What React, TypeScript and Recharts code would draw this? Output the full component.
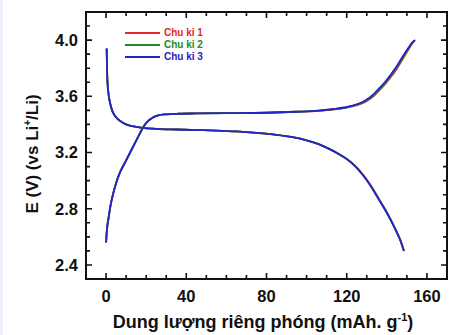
import React from "react";
import { LineChart, Line, XAxis, YAxis, Legend, Label } from "recharts";

// Charge branch: specific capacity (mAh/g) and potential (V) for each cycle
const chargeCapacity = [
  0, 0.5, 1.2, 2.2, 3.6, 5.2, 7, 9.5, 12, 14.5, 17, 19, 21, 23.5, 26, 30, 36, 45,
  60, 80, 95, 106, 114, 120, 125, 129, 133, 136, 139, 142, 145, 148, 150.5, 152.5, 154,
];
const chargeVoltage1 = [
  2.56, 2.66, 2.73, 2.82, 2.91, 2.99, 3.06, 3.13, 3.2, 3.27, 3.34, 3.39, 3.425, 3.45,
  3.465, 3.472, 3.476, 3.478, 3.48, 3.483, 3.49, 3.497, 3.508, 3.52, 3.537, 3.558,
  3.596, 3.638, 3.684, 3.737, 3.797, 3.866, 3.926, 3.972, 4.0,
];
const chargeVoltage2 = [
  2.56, 2.66, 2.73, 2.82, 2.91, 2.99, 3.06, 3.13, 3.2, 3.27, 3.34, 3.39, 3.425, 3.45,
  3.465, 3.472, 3.476, 3.478, 3.48, 3.483, 3.49, 3.498, 3.509, 3.522, 3.54, 3.563,
  3.603, 3.647, 3.692, 3.746, 3.806, 3.876, 3.933, 3.976, 4.0,
];
const chargeVoltage3 = [
  2.56, 2.66, 2.73, 2.82, 2.91, 2.99, 3.06, 3.13, 3.2, 3.27, 3.34, 3.39, 3.425, 3.45,
  3.465, 3.472, 3.476, 3.478, 3.48, 3.483, 3.49, 3.498, 3.51, 3.524, 3.543, 3.568,
  3.61, 3.655, 3.7, 3.755, 3.815, 3.885, 3.94, 3.98, 4.0,
];

// Discharge branch
const dischargeCapacity = [
  0.3, 0.65, 1.2, 2, 3, 4.5, 7, 10, 13, 18, 25, 35, 45, 55, 65, 75, 85, 93, 100, 106,
  111, 116, 120, 124, 128, 132, 136, 140, 144, 147, 148.5,
];
const dischargeVoltage1 = [
  3.94, 3.72, 3.62, 3.553, 3.5, 3.46, 3.425, 3.4, 3.388, 3.376, 3.369, 3.364, 3.36,
  3.356, 3.35, 3.34, 3.326, 3.309, 3.287, 3.26, 3.228, 3.19, 3.155, 3.108, 3.045,
  2.966, 2.872, 2.776, 2.664, 2.568, 2.5,
];
const dischargeVoltage2 = [
  3.94, 3.72, 3.62, 3.553, 3.5, 3.46, 3.425, 3.4, 3.388, 3.376, 3.369, 3.364, 3.36,
  3.356, 3.35, 3.34, 3.326, 3.309, 3.287, 3.26, 3.228, 3.19, 3.154, 3.106, 3.042,
  2.963, 2.868, 2.773, 2.662, 2.566, 2.5,
];
const dischargeVoltage3 = [
  3.94, 3.72, 3.62, 3.553, 3.5, 3.46, 3.425, 3.4, 3.388, 3.376, 3.369, 3.364, 3.36,
  3.356, 3.35, 3.34, 3.326, 3.309, 3.287, 3.26, 3.228, 3.19, 3.153, 3.105, 3.04,
  2.96, 2.865, 2.77, 2.66, 2.565, 2.5,
];

const cycleNames = ["Chu ki 1", "Chu ki 2", "Chu ki 3"];
const cycleColors = ["#e3262b", "#1f8a24", "#2424c8"];

const xDomain = [-10, 170];
const yDomain = [2.3, 4.2];
const xTicks = [0, 10, 20, 30, 40, 50, 60, 70, 80, 90, 100, 110, 120, 130, 140, 150, 160];
const xLabels = [0, 40, 80, 120, 160];
const yTicks = [2.4, 2.5, 2.6, 2.7, 2.8, 2.9, 3.0, 3.1, 3.2, 3.3, 3.4, 3.5, 3.6, 3.7, 3.8, 3.9, 4.0, 4.1];
const yLabels = [2.4, 2.8, 3.2, 3.6, 4.0];

const toPoints = (caps: number[], volts: number[]) =>
  caps.map((cap, i) => ({ cap, v: volts[i] }));

const chargeSeries = [chargeVoltage1, chargeVoltage2, chargeVoltage3].map((v) =>
  toPoints(chargeCapacity, v)
);
const dischargeSeries = [dischargeVoltage1, dischargeVoltage2, dischargeVoltage3].map((v) =>
  toPoints(dischargeCapacity, v)
);

// frame layout
const WIDTH = 455;
const HEIGHT = 335;
const MARGIN = { top: 12, right: 8, bottom: 0, left: 0 };
const Y_AXIS_W = 86;
const X_AXIS_H = 56;
const PLOT_W = WIDTH - MARGIN.left - MARGIN.right - Y_AXIS_W;
const PLOT_H = HEIGHT - MARGIN.top - MARGIN.bottom - X_AXIS_H;

const FONT = '"Liberation Sans", Arial, sans-serif';
const MAJOR = 6;
const MINOR = 4;
const INK = "#111";

const isXLabel = (v: number) => xLabels.includes(v);
const isYLabel = (v: number) => yLabels.some((l) => Math.abs(l - v) < 1e-6);

// bottom ticks point inward, mirrored on the top edge of the frame
const BottomTick = (props: any) => {
  const { x, y, payload } = props;
  const major = isXLabel(payload.value);
  const len = major ? MAJOR : MINOR;
  const top = y - PLOT_H;
  return (
    <g>
      <path d={`M${x},${y}V${y - len}M${x},${top}V${top + len}`} stroke={INK} strokeWidth={1.6} fill="none" />
      {major && (
        <text x={x} y={y + 23} textAnchor="middle" fontFamily={FONT} fontWeight="bold" fontSize={16.5} fill={INK}>
          {payload.value}
        </text>
      )}
    </g>
  );
};

// left ticks point inward, mirrored on the right edge of the frame
const LeftTick = (props: any) => {
  const { x, y, payload } = props;
  const major = isYLabel(payload.value);
  const len = major ? MAJOR : MINOR;
  const right = x + PLOT_W;
  return (
    <g>
      <path d={`M${x},${y}H${x + len}M${right},${y}H${right - len}`} stroke={INK} strokeWidth={1.6} fill="none" />
      {major && (
        <text x={x - 8} y={y + 5.8} textAnchor="end" fontFamily={FONT} fontWeight="bold" fontSize={16.5} fill={INK}>
          {Number(payload.value).toFixed(1)}
        </text>
      )}
    </g>
  );
};

const XTitle = (props: any) => {
  const vb = props.viewBox || { x: 86, y: 279, width: 361 };
  return (
    <text x={vb.x + vb.width / 2 - 3.5} y={vb.y + 49} textAnchor="middle" fontFamily={FONT} fontWeight="bold" fontSize={18} fill={INK}>
      Dung lượng riêng phóng (mAh. g
      <tspan fontSize={11} dy={-7}>-1</tspan>
      <tspan dy={7}>)</tspan>
    </text>
  );
};

const YTitle = () => (
  <text
    x={0}
    y={0}
    transform="translate(37.5,154) rotate(-90)"
    textAnchor="middle"
    fontFamily={FONT}
    fontWeight="bold"
    fontSize={17}
    fill={INK}
  >
    E (V) (vs Li
    <tspan fontSize={10} dy={-7}>+</tspan>
    <tspan dy={7}>/Li)</tspan>
  </text>
);

const CycleLegend = () => (
  <div style={{ fontFamily: FONT }}>
    {cycleNames.map((name, i) => (
      <div key={name} style={{ display: "flex", alignItems: "center", height: 12 }}>
        <div style={{ width: 35, height: 2, background: cycleColors[i] }} />
        <span style={{ marginLeft: 4, fontSize: 10, fontWeight: "bold", color: cycleColors[i], lineHeight: "12px" }}>
          {name}
        </span>
      </div>
    ))}
  </div>
);

export default function App() {
  return (
    <div style={{ position: "absolute", left: 0, top: 0, width: WIDTH, height: HEIGHT, background: "#fff" }}>
      <div style={{ position: "absolute", left: 0, top: 0, width: 3, height: HEIGHT, background: "#eef0fa" }} />
      <LineChart width={WIDTH} height={HEIGHT} margin={MARGIN}>
        <XAxis
          xAxisId="b"
          dataKey="cap"
          type="number"
          orientation="bottom"
          domain={xDomain}
          allowDataOverflow
          ticks={xTicks}
          interval={0}
          height={X_AXIS_H}
          tickSize={0}
          tickMargin={0}
          tickLine={false}
          axisLine={{ stroke: INK, strokeWidth: 2 }}
          tick={<BottomTick />}
        >
          <Label content={<XTitle />} />
        </XAxis>
        <YAxis
          yAxisId="l"
          type="number"
          orientation="left"
          domain={yDomain}
          allowDataOverflow
          ticks={yTicks}
          interval={0}
          width={Y_AXIS_W}
          tickSize={0}
          tickMargin={0}
          tickLine={false}
          axisLine={{ stroke: INK, strokeWidth: 2 }}
          tick={<LeftTick />}
        >
          <Label content={<YTitle />} />
        </YAxis>
        <Legend
          layout="horizontal"
          verticalAlign="middle"
          wrapperStyle={{ top: 27, left: 125, width: "auto", height: "auto" }}
          content={<CycleLegend />}
        />
        {cycleNames.map((name, i) => (
          <Line
            key={`c-${name}`}
            xAxisId="b"
            yAxisId="l"
            data={chargeSeries[i]}
            dataKey="v"
            name={name}
            type="monotone"
            stroke={cycleColors[i]}
            strokeWidth={1.8}
            dot={false}
            activeDot={false}
            isAnimationActive={false}
          />
        ))}
        {cycleNames.map((name, i) => (
          <Line
            key={`d-${name}`}
            xAxisId="b"
            yAxisId="l"
            data={dischargeSeries[i]}
            dataKey="v"
            name={`${name} `}
            type="monotone"
            stroke={cycleColors[i]}
            strokeWidth={1.8}
            dot={false}
            activeDot={false}
            legendType="none"
            isAnimationActive={false}
          />
        ))}
      </LineChart>
      {/* plot frame */}
      <div
        style={{
          position: "absolute",
          boxSizing: "border-box",
          left: MARGIN.left + Y_AXIS_W - 1,
          top: MARGIN.top - 1,
          right: WIDTH - (MARGIN.left + Y_AXIS_W + PLOT_W) - 1,
          bottom: HEIGHT - (MARGIN.top + PLOT_H) - 1,
          border: `2px solid ${INK}`,
          pointerEvents: "none",
        }}
      />
    </div>
  );
}
